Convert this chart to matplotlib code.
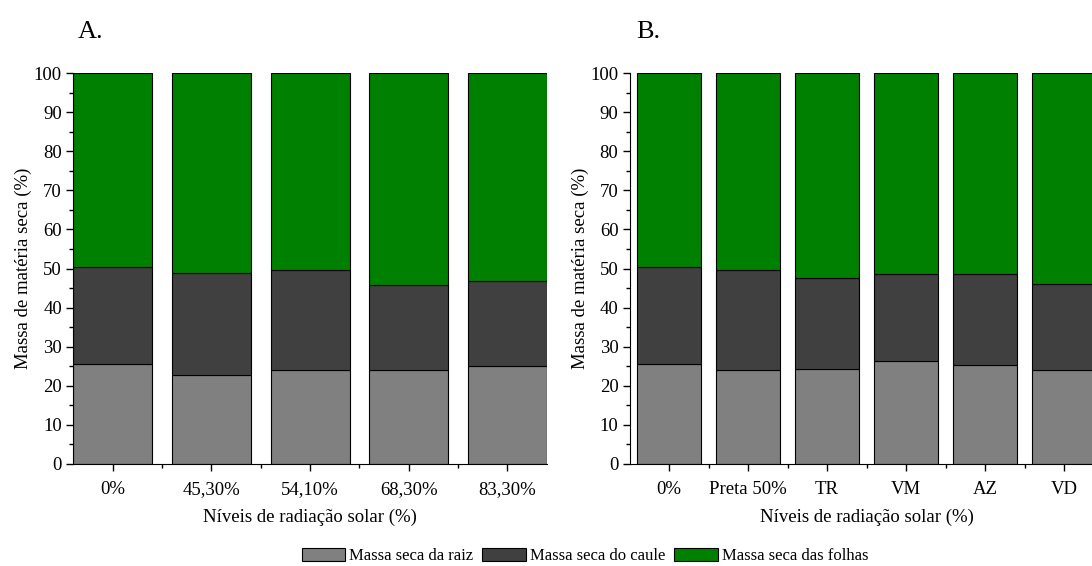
import matplotlib
matplotlib.use("Agg")
import matplotlib.pyplot as plt
import numpy as np
from matplotlib.ticker import MultipleLocator, FixedLocator

plt.rcParams['font.family'] = ['Liberation Serif', 'DejaVu Serif']

# panel A data (% of dry mass)
cat_a = ['0%', '45,30%', '54,10%', '68,30%', '83,30%']
raiz_a = [25.7, 22.7, 24.1, 24.1, 25.1]
caule_a = [24.7, 26.1, 25.4, 21.7, 21.8]
folhas_a = [49.6, 51.2, 50.5, 54.2, 53.1]

# panel B data
cat_b = ['0%', 'Preta 50%', 'TR', 'VM', 'AZ', 'VD']
raiz_b = [25.7, 24.1, 24.4, 26.4, 25.4, 24.0]
caule_b = [24.7, 25.4, 23.2, 22.3, 23.2, 22.0]
folhas_b = [49.6, 50.5, 52.4, 51.3, 51.4, 54.0]

labels = ['Massa seca da raiz', 'Massa seca do caule', 'Massa seca das folhas']
colors = ['#808080', '#404040', '#008000']

fig = plt.figure(figsize=(10.92, 5.66), dpi=100)
W, H = 1092, 566
ax_a = fig.add_axes([73 / W, 1 - 464 / H, 474 / W, 391 / H])
ax_b = fig.add_axes([629.5 / W, 1 - 464 / H, 474 / W, 391 / H])


def draw(ax, cats, raiz, caule, folhas, xlim):
    x = np.arange(len(cats))
    bottom = np.zeros(len(cats))
    handles = []
    for vals, c, lab in zip([raiz, caule, folhas], colors, labels):
        h = ax.bar(x, vals, 0.8, bottom=bottom, color=c, edgecolor='black',
                   linewidth=0.8, label=lab)
        bottom += np.array(vals)
        handles.append(h)
    ax.set_xlim(*xlim)
    ax.set_ylim(0, 100)
    ax.set_xticks(x)
    ax.set_xticklabels(cats)
    ax.xaxis.set_minor_locator(FixedLocator(x[:-1] + 0.5))
    ax.yaxis.set_major_locator(MultipleLocator(10))
    ax.yaxis.set_minor_locator(MultipleLocator(5))
    ax.spines['top'].set_visible(False)
    ax.spines['right'].set_visible(False)
    ax.tick_params(which='major', length=5, width=1, labelsize=13.5, pad=3)
    ax.tick_params(which='minor', length=3, width=1)
    ax.tick_params(axis='x', which='major', pad=7)
    ax.set_xlabel('Níveis de radiação solar (%)', fontsize=13.5, labelpad=8)
    ax.set_ylabel('Massa de matéria seca (%)', fontsize=13.5, labelpad=1)
    return handles


handles = draw(ax_a, cat_a, raiz_a, caule_a, folhas_a, (-0.4, 4.4))
draw(ax_b, cat_b, raiz_b, caule_b, folhas_b, (-0.5, 5.5))

fig.text(78 / W, 1 - 32 / H, 'A.', fontsize=19, va='center', ha='left')
fig.text(636 / W, 1 - 32 / H, 'B.', fontsize=19, va='center', ha='left')

fig.legend(handles, labels, loc='center', bbox_to_anchor=(585 / W, 1 - 556 / H),
           ncol=3, frameon=False, fontsize=12, handlelength=2.6,
           handleheight=0.8, handletextpad=0.25, columnspacing=0.55)

fig.savefig('out.png', dpi=100)
